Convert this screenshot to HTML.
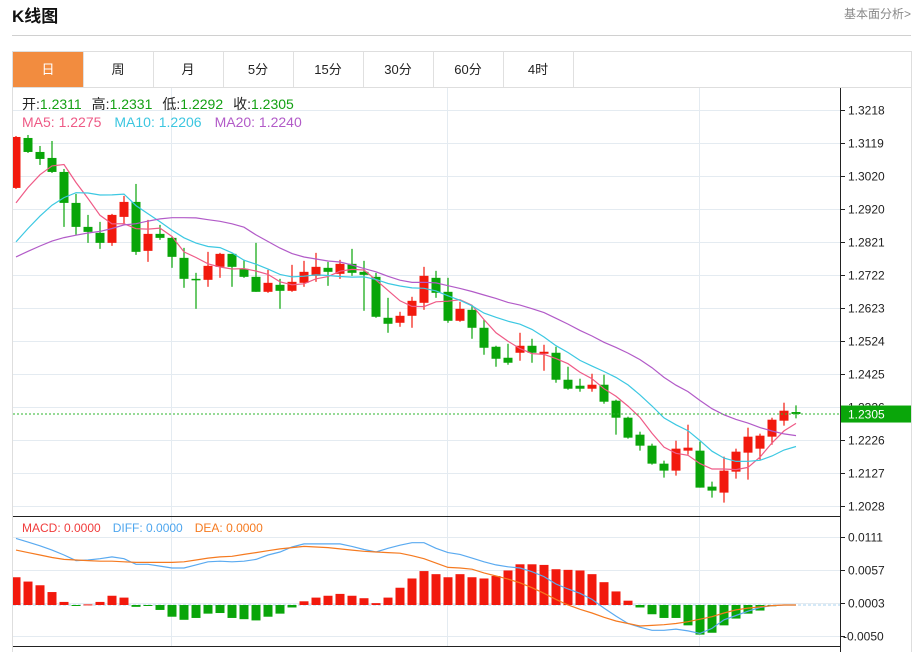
<!DOCTYPE html>
<html><head><meta charset="utf-8">
<style>
html,body{margin:0;padding:0;background:#fff;width:921px;height:652px;overflow:hidden}
svg{display:block;font-family:"Liberation Sans","Noto Sans CJK SC",sans-serif}
</style></head>
<body>
<svg id="chart" width="921" height="652" viewBox="0 0 921 652" xmlns="http://www.w3.org/2000/svg">
<text x="12" y="22" font-size="17" font-weight="bold" fill="#111">K线图</text>
<text x="911" y="18" font-size="12" fill="#888" text-anchor="end">基本面分析&gt;</text>
<line x1="12" y1="35.5" x2="911" y2="35.5" stroke="#d0d0d0"/>
<rect x="12.5" y="51.5" width="899" height="610" fill="none" stroke="#dedede"/>
<line x1="13" y1="87.5" x2="911" y2="87.5" stroke="#dedede"/>
<g id="tabs"></g>
<g id="grid"></g>
<g id="plot" clip-path="url(#clipMain)"></g>
<g id="macd" clip-path="url(#clipMacd)"></g>
<g id="axes"></g>
<defs>
<clipPath id="clipMain"><rect x="13" y="88" width="828" height="428"/></clipPath>
<clipPath id="clipMacd"><rect x="13" y="517" width="828" height="129"/></clipPath>
</defs>
<text x="22" y="109" font-size="14"><tspan fill="#222">开:</tspan><tspan fill="#13a013">1.2311</tspan><tspan fill="#222" dx="10">高:</tspan><tspan fill="#13a013">1.2331</tspan><tspan fill="#222" dx="10">低:</tspan><tspan fill="#13a013">1.2292</tspan><tspan fill="#222" dx="10">收:</tspan><tspan fill="#13a013">1.2305</tspan></text>
<text x="22" y="127" font-size="14"><tspan fill="#ee5a86">MA5: 1.2275</tspan><tspan fill="#3cc6e0" dx="13">MA10: 1.2206</tspan><tspan fill="#b25bc8" dx="13">MA20: 1.2240</tspan></text>
<text x="22" y="532" font-size="12"><tspan fill="#f03c3c">MACD: 0.0000</tspan><tspan fill="#4ea6ee" dx="12">DIFF: 0.0000</tspan><tspan fill="#f57a20" dx="12">DEA: 0.0000</tspan></text>
</svg>
<script>
const tabLabels=["日","周","月","5分","15分","30分","60分","4时"];
const history=[1.2760,1.2750,1.2740,1.2730,1.2720,1.2720,1.2725,1.2730,1.2720,1.2725,1.2690,1.2700,1.2705,1.2710,1.2720,1.2860,1.2880,1.2900,1.2918];
const opens=[1.2984,1.3134,1.3092,1.3074,1.3032,1.2939,1.2867,1.2849,1.2819,1.2897,1.2942,1.2795,1.2846,1.2834,1.2774,1.2711,1.2708,1.2747,1.2786,1.2741,1.2717,1.2672,1.2693,1.2675,1.2699,1.2720,1.2744,1.2726,1.2756,1.2732,1.2717,1.2594,1.2579,1.2600,1.2639,1.2714,1.2672,1.2585,1.2618,1.2564,1.2507,1.2474,1.2489,1.2510,1.2486,1.2489,1.2408,1.2390,1.2381,1.2393,1.2345,1.2294,1.2243,1.2210,1.2156,1.2135,1.2195,1.2195,1.2087,1.2069,1.2132,1.2189,1.2201,1.2237,1.2285,1.2311];
const highs=[1.3140,1.3143,1.3110,1.3125,1.3041,1.2966,1.2903,1.2882,1.2906,1.2960,1.2996,1.2888,1.2873,1.2837,1.2804,1.2729,1.2792,1.2789,1.2786,1.2768,1.2819,1.2738,1.2711,1.2753,1.2765,1.2789,1.2762,1.2768,1.2801,1.2765,1.2729,1.2654,1.2612,1.2657,1.2747,1.2735,1.2714,1.2642,1.2630,1.2588,1.2510,1.2516,1.2549,1.2531,1.2513,1.2507,1.2447,1.2411,1.2426,1.2423,1.2348,1.2297,1.2252,1.2216,1.2165,1.2225,1.2273,1.2222,1.2102,1.2177,1.2201,1.2264,1.2246,1.2294,1.2339,1.2331];
const lows=[1.2981,1.3089,1.3053,1.3029,1.2867,1.2843,1.2819,1.2801,1.2810,1.2876,1.2783,1.2762,1.2828,1.2744,1.2684,1.2621,1.2687,1.2714,1.2687,1.2714,1.2672,1.2669,1.2621,1.2672,1.2687,1.2702,1.2690,1.2711,1.2720,1.2615,1.2594,1.2549,1.2567,1.2564,1.2618,1.2654,1.2579,1.2582,1.2531,1.2483,1.2447,1.2453,1.2465,1.2459,1.2435,1.2399,1.2378,1.2372,1.2372,1.2336,1.2243,1.2231,1.2195,1.2153,1.2114,1.2120,1.2183,1.2084,1.2054,1.2039,1.2111,1.2108,1.2168,1.2213,1.2270,1.2292];
const closes=[1.3137,1.3092,1.3071,1.3032,1.2939,1.2867,1.2852,1.2819,1.2903,1.2942,1.2792,1.2846,1.2834,1.2777,1.2711,1.2708,1.2750,1.2786,1.2747,1.2717,1.2672,1.2699,1.2675,1.2702,1.2732,1.2747,1.2732,1.2756,1.2729,1.2723,1.2597,1.2576,1.2600,1.2645,1.2720,1.2669,1.2585,1.2621,1.2564,1.2504,1.2471,1.2459,1.2510,1.2489,1.2492,1.2408,1.2381,1.2381,1.2393,1.2342,1.2294,1.2234,1.2210,1.2156,1.2135,1.2201,1.2204,1.2084,1.2075,1.2135,1.2192,1.2237,1.2240,1.2288,1.2315,1.2305];
const priceTicks=[1.3218,1.3119,1.3020,1.2920,1.2821,1.2722,1.2623,1.2524,1.2425,1.2326,1.2226,1.2127,1.2028];
const macdHist=[0.0045,0.0038,0.0032,0.0021,0.0005,-0.0001,0.0001,0.0005,0.0015,0.0012,-0.0003,-0.0001,-0.0008,-0.0019,-0.0024,-0.0021,-0.0014,-0.0013,-0.0021,-0.0023,-0.0025,-0.0019,-0.0014,-0.0004,0.0006,0.0012,0.0015,0.0018,0.0015,0.0011,0.0003,0.0012,0.0028,0.0043,0.0055,0.0050,0.0045,0.0050,0.0045,0.0043,0.0047,0.0056,0.0066,0.0066,0.0065,0.0058,0.0057,0.0056,0.0050,0.0037,0.0022,0.0007,-0.0004,-0.0015,-0.0021,-0.0021,-0.0033,-0.0048,-0.0045,-0.0033,-0.0022,-0.0014,-0.0009,-0.0002,0.0000,0.0000];
const diffVals=[0.0108,0.0102,0.0096,0.0089,0.0081,0.0072,0.0073,0.0075,0.0078,0.0075,0.0066,0.0066,0.0063,0.0060,0.0060,0.0065,0.0070,0.0071,0.0070,0.0071,0.0074,0.0081,0.0086,0.0094,0.0099,0.0099,0.0099,0.0099,0.0095,0.0090,0.0086,0.0092,0.0097,0.0101,0.0101,0.0092,0.0085,0.0082,0.0076,0.0070,0.0065,0.0062,0.0060,0.0054,0.0046,0.0034,0.0026,0.0019,0.0009,-0.0005,-0.0018,-0.0030,-0.0036,-0.0041,-0.0041,-0.0039,-0.0042,-0.0046,-0.0038,-0.0024,-0.0017,-0.0010,-0.0004,-0.0001,0.0000,0.0000];
const deaVals=[0.0089,0.0085,0.0081,0.0077,0.0074,0.0073,0.0072,0.0071,0.0071,0.0070,0.0069,0.0069,0.0069,0.0069,0.0070,0.0073,0.0076,0.0078,0.0079,0.0082,0.0085,0.0088,0.0091,0.0093,0.0095,0.0094,0.0093,0.0091,0.0089,0.0087,0.0086,0.0085,0.0084,0.0080,0.0075,0.0068,0.0061,0.0060,0.0058,0.0052,0.0047,0.0042,0.0036,0.0028,0.0019,0.0009,0.0000,-0.0007,-0.0013,-0.0020,-0.0026,-0.0030,-0.0034,-0.0033,-0.0032,-0.0030,-0.0027,-0.0023,-0.0019,-0.0013,-0.0008,-0.0005,-0.0003,-0.0001,0.0000,0.0000];
const macdTicks=[0.0111,0.0057,0.0003,-0.0050];
const vGridIdx=[13,36,57];

const NS="http://www.w3.org/2000/svg";
const RED="#f2190d",GREEN="#09a509";
function el(tag,attrs,parent){const e=document.createElementNS(NS,tag);for(const k in attrs)e.setAttribute(k,attrs[k]);parent.appendChild(e);return e;}
const xOf=i=>16+12*i;
const yP=p=>110+(1.3218-p)*3330;
const yM=v=>605-v*6167;

// tabs
const tabs=document.getElementById('tabs');
tabLabels.forEach((t,i)=>{
  const x=13+70*i;
  const r=el('rect',{x:x,y:52,width:70,height:35,fill:i===0?"#f28c3f":"#fff"},tabs);
  
  
  const tx=el('text',{x:x+35,y:74,'font-size':13,'text-anchor':'middle',fill:i===0?"#fff":"#222"},tabs);
  tx.textContent=t;
  
  
});
tabLabels.forEach((t,i)=>{
  const x=13+70*(i+1);
  const l=el('line',{x1:x+0.5,y1:52,x2:x+0.5,y2:87,stroke:"#e0e0e0"},tabs);
  
  
});

// grid
const grid=document.getElementById('grid');
priceTicks.forEach(v=>{const y=Math.round(yP(v))+0.5;const g=el('line',{x1:13,y1:y,x2:841,y2:y,stroke:"#e4ebf1"},grid);});
macdTicks.forEach(v=>{const y=Math.round(yM(v))+0.5;const g=el('line',{x1:13,y1:y,x2:841,y2:y,stroke:"#e4ebf1"},grid);});
vGridIdx.forEach(i=>{const x=xOf(i)-0.5;const g=el('line',{x1:x,y1:88,x2:x,y2:646,stroke:"#e4ebf1"},grid);});

// candles
const plot=document.getElementById('plot');
const allC=history.concat(closes);
function ma(n){return closes.map((c,i)=>{const k=i+history.length;let s=0;for(let j=k-n+1;j<=k;j++)s+=allC[j];return s/n;});}
closes.forEach((c,i)=>{
  const o=opens[i],up=c>=o,col=up?RED:GREEN,x=xOf(i);
  const w=el('line',{x1:x,y1:yP(highs[i]),x2:x,y2:yP(lows[i]),stroke:col,'stroke-width':1.2},plot);
  
  
  const top=yP(Math.max(o,c)),h=Math.max(1.5,Math.abs(yP(o)-yP(c)));
  const b=el('rect',{x:x-4.5,y:top,width:9,height:h,fill:col},plot);
  
  
});
[[5,"#ef5b87"],[10,"#3cc8e2"],[20,"#b25bc8"]].forEach(([n,col])=>{
  const pts=ma(n).map((v,i)=>xOf(i)+","+yP(v).toFixed(1)).join(" ");
  const pl=el('polyline',{points:pts,fill:"none",stroke:col,'stroke-width':1.2},plot);
  
  
});
const last=closes[closes.length-1];
const cl=el('line',{x1:13,y1:yP(last),x2:841,y2:yP(last),stroke:"#2db52d",'stroke-dasharray':"2,2"},plot);



// macd
const macd=document.getElementById('macd');
const z=el('line',{x1:13,y1:yM(0),x2:841,y2:yM(0),stroke:"#a9d3ef",'stroke-dasharray':"3,2"},macd);


macdHist.forEach((v,i)=>{
  if(v===0)return;
  const y0=yM(0),y1=yM(v);
  const r=el('rect',{x:xOf(i)-4.5,y:Math.min(y0,y1),width:9,height:Math.max(1,Math.abs(y1-y0)),fill:v>0?RED:GREEN},macd);
  
  
});
[[diffVals,"#5aaaf0","diff-line"],[deaVals,"#f57a20","dea-line"]].forEach(([arr,col,nm])=>{
  const pts=arr.map((v,i)=>xOf(i)+","+yM(v).toFixed(1)).join(" ");
  const pl=el('polyline',{points:pts,fill:"none",stroke:col,'stroke-width':1.2},macd);
  
  
});

// axes
const axes=document.getElementById('axes');
const a1=el('line',{x1:840.5,y1:88,x2:840.5,y2:652,stroke:"#222"},axes);
const a2=el('line',{x1:13,y1:516.5,x2:841,y2:516.5,stroke:"#222"},axes);
const a3=el('line',{x1:13,y1:646.5,x2:841,y2:646.5,stroke:"#222"},axes);
priceTicks.forEach(v=>{
  const y=Math.round(yP(v))+0.5;
  const t=el('line',{x1:841,y1:y,x2:845,y2:y,stroke:"#222"},axes);
  const tx=el('text',{x:848,y:y+4,'font-size':12,fill:"#222"},axes);tx.textContent=v.toFixed(4);
  
});
macdTicks.forEach(v=>{
  const y=Math.round(yM(v))+0.5;
  const t=el('line',{x1:841,y1:y,x2:845,y2:y,stroke:"#222"},axes);
  const tx=el('text',{x:v<0?843:848,y:y+4,'font-size':12,fill:"#222"},axes);tx.textContent=v.toFixed(4);
  
});
const yl=yP(last);
const box=el('rect',{x:841,y:yl-8.5,width:70,height:17,fill:"#0aa60a"},axes);


const bt=el('text',{x:848,y:yl+4.5,'font-size':12,fill:"#fff"},axes);bt.textContent=last.toFixed(4);


</script>
</body></html>
